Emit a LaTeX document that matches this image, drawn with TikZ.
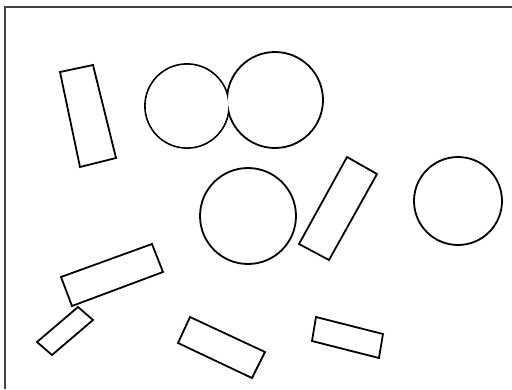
\documentclass[tikz,border=0pt]{standalone}
\usepackage{tikz}
\usetikzlibrary{calc}

\begin{document}
\begin{tikzpicture}[x=1pt,y=-1pt,line join=miter] % 1 Einheit = 1 Pixel, y nach unten
\useasboundingbox (0,0) rectangle (512,389);

%RAHMEN (nur oben und links sichtbar)
\draw [line width=1.5pt, black!75] (5,389) -- (5,7) -- (512,7);

%KREIS NR. 0 UND 1 (oben, verschmolzen: innere Boegen weg)
\draw [line width=1.8pt] (187,106) circle (42);
\fill [white] (275,100) circle (48-0.9);
\draw [line width=1.8pt] (275,100) circle (48);
\fill [white] (187,106) circle (42-0.9);

%KREIS NR. 2 (Mitte)
\draw [line width=1.8pt] (248,216) circle (48);

%KREIS NR. 3 (rechts)
\draw [line width=1.8pt] (458,201) circle (44);

%RECHTECK NR. 0 (oben links, hochkant)
\draw [line width=1.8pt] (60,72) -- (93,65) -- (116,158) -- (80,167) -- cycle;

%RECHTECK NR. 1 (schraeg, neben Kreis 2)
\draw [line width=1.8pt] (347,157) -- (377,174) -- (329,260) -- (299,244) -- cycle;

%RECHTECK NR. 2 (links, lang)
\draw [line width=1.8pt] (61,277) -- (152,244) -- (163,272) -- (72,306) -- cycle;

%RECHTECK NR. 3 (unten links, klein)
\draw [line width=1.8pt] (78,307) -- (93,320) -- (52,355) -- (37,342) -- cycle;

%RECHTECK NR. 4 (unten Mitte)
\draw [line width=1.8pt] (190,317) -- (265,352) -- (252,378) -- (178,343) -- cycle;

%RECHTECK NR. 5 (unten rechts)
\draw [line width=1.8pt] (316,317) -- (383,334) -- (379,358) -- (312,341) -- cycle;

\end{tikzpicture}
\end{document}
